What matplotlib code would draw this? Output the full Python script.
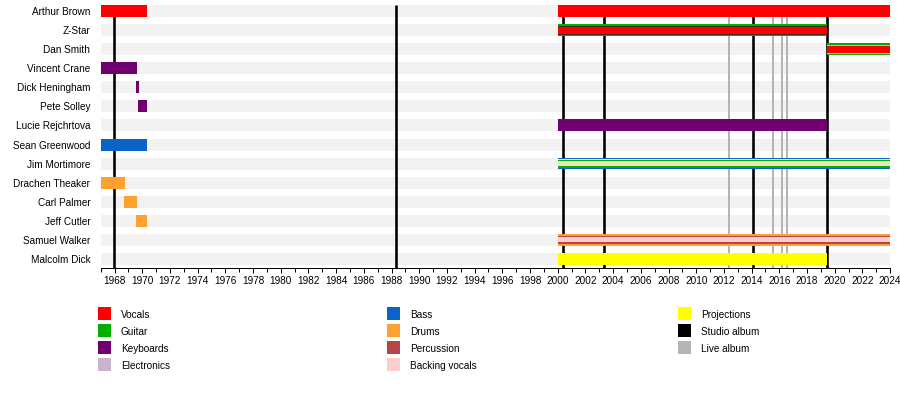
import matplotlib
matplotlib.use("Agg")
import matplotlib.pyplot as plt
import matplotlib.patches as mpatches
from matplotlib.ticker import FixedLocator

plt.rcParams['font.family'] = ['Liberation Sans', 'DejaVu Sans']

# ---------------- data ----------------
members = ["Arthur Brown", "Z-Star", "Dan Smith", "Vincent Crane", "Dick Heningham",
           "Pete Solley", "Lucie Rejchrtova", "Sean Greenwood", "Jim Mortimore",
           "Drachen Theaker", "Carl Palmer", "Jeff Cutler", "Samuel Walker", "Malcolm Dick"]

period_start = 1967.0
period_end = 2024.0

bar_member = ["Arthur Brown", "Arthur Brown", "Z-Star", "Dan Smith", "Vincent Crane",
              "Dick Heningham", "Pete Solley", "Lucie Rejchrtova", "Sean Greenwood",
              "Jim Mortimore", "Drachen Theaker", "Carl Palmer", "Jeff Cutler",
              "Samuel Walker", "Malcolm Dick"]
bar_start = [1967.0, 2000.0, 2000.0, 2019.45, 1967.0,
             1969.55, 1969.72, 2000.0, 1967.0,
             2000.0, 1967.0, 1968.68, 1969.55,
             2000.0, 2000.0]
bar_end = [1970.34, 2024.0, 2019.45, 2024.0, 1969.62,
           1969.77, 1970.34, 2019.45, 1970.34,
           2024.0, 1968.73, 1969.62, 1970.34,
           2024.0, 2019.45]
bar_roles = [["vocals"], ["vocals"], ["guitar", "zline", "vocals"],
             ["guitar", "electronics", "vocals"], ["keyboards"],
             ["keyboards"], ["keyboards"], ["keyboards"], ["bass"],
             ["bass", "jpale", "guitar", "jbeige"], ["drums"], ["drums"], ["drums"],
             ["drums", "percussion", "bvocals"], ["projections"]]

studio_albums = [1967.96, 1988.32, 2000.4, 2003.36, 2014.12, 2019.44]
live_albums = [2012.39, 2015.56, 2016.2, 2016.57]

legend_col1 = ["Vocals", "Guitar", "Keyboards", "Electronics"]
legend_col2 = ["Bass", "Drums", "Percussion", "Backing vocals"]
legend_col3 = ["Projections", "Studio album", "Live album"]

# ---------------- style ----------------
colors = {
    "vocals": "#ff0000", "guitar": "#00b000", "keyboards": "#700070",
    "electronics": "#c8b4cc", "bass": "#0a64c8", "drums": "#ffa030",
    "percussion": "#b44646", "bvocals": "#ffcccc", "projections": "#ffff00",
    "studio": "#000000", "live": "#b4b4b4",
    "zline": "#402818", "jpale": "#dfe6e4", "jbeige": "#eee4b4",
}
legend_colors = {
    "Vocals": colors["vocals"], "Guitar": colors["guitar"], "Keyboards": colors["keyboards"],
    "Electronics": colors["electronics"], "Bass": colors["bass"], "Drums": colors["drums"],
    "Percussion": colors["percussion"], "Backing vocals": colors["bvocals"],
    "Projections": colors["projections"], "Studio album": colors["studio"],
    "Live album": colors["live"],
}
layer_heights_px = [12, 9, 7, 5]

W, H = 900, 395
x0px, x1px = 100.7, 890.1
ytop_px, ybot_px = 2.0, 268.0
row0_px, row_px = 11.0, 19.08
PT = 0.72  # points per pixel at 100 dpi

fig = plt.figure(figsize=(W / 100, H / 100), dpi=100)
ax = fig.add_axes([x0px / W, 1 - ybot_px / H, (x1px - x0px) / W, (ybot_px - ytop_px) / H])
ax.set_xlim(period_start, period_end)
ax.set_ylim((ybot_px - row0_px) / row_px, (ytop_px - row0_px) / row_px)
pxu = 1.0 / row_px

rows = list(range(len(members)))
row_of = {m: i for i, m in enumerate(members)}

# background bands
ax.barh(rows, period_end - period_start, left=period_start, height=12 * pxu,
        color="#f2f2f2", linewidth=0, zorder=0)

# album lines
line_top = (5 - row0_px) / row_px
line_bot = (ybot_px - row0_px) / row_px
ax.vlines(live_albums, line_top, line_bot, color=colors["live"], linewidth=2.0 * PT, zorder=1)
ax.vlines(studio_albums, line_top, line_bot, color=colors["studio"], linewidth=2.6 * PT, zorder=2)

# member bars
for m, s, e, roles in zip(bar_member, bar_start, bar_end, bar_roles):
    if len(roles) == 3 and roles[-1] == "bvocals":
        hs = [11.5, 8.5, 5]
    elif len(roles) == 4:
        hs = [11.5, 9.5, 8, 5.5]
    else:
        hs = layer_heights_px
    for k, r in enumerate(roles):
        ax.barh(row_of[m], e - s, left=s, height=hs[k] * pxu, color=colors[r],
                linewidth=0, zorder=3 + k)

# axes styling
for sp in ["top", "left", "right"]:
    ax.spines[sp].set_visible(False)
ax.spines["bottom"].set_linewidth(1.0 * PT)
ax.spines["bottom"].set_color("black")
ax.spines["bottom"].set_zorder(10)

major = list(range(1968, 2025, 2))
minor = list(range(1967, 2025, 1))
ax.xaxis.set_major_locator(FixedLocator(major))
ax.xaxis.set_minor_locator(FixedLocator([y for y in minor if y not in major]))
ax.set_xticklabels([str(y) for y in major])
ax.tick_params(axis="x", which="major", direction="out", length=4.5 * PT, width=1.0 * PT,
               labelsize=7.2, pad=2.5, colors="black")
ax.tick_params(axis="x", which="minor", direction="out", length=4.0 * PT, width=1.0 * PT)

ax.set_yticks(rows)
ax.set_yticklabels(members)
ax.tick_params(axis="y", length=0, pad=10.5 * PT, labelsize=7.2, labelcolor="black")

# legend (three columns, drawn as figure-level patches + text)
def make_legend(labels, xpx, ypx, step=17.0, size=12.5, textgap=10.0):
    for i, l in enumerate(labels):
        top = ypx + i * step
        fig.patches.append(mpatches.Rectangle(
            (xpx / W, 1 - (top + size) / H), size / W, size / H,
            transform=fig.transFigure, facecolor=legend_colors[l], edgecolor="none"))
        fig.text((xpx + size + textgap) / W, 1 - (top + size / 2 + 1.0) / H, l,
                 fontsize=7.2, va="center", ha="left", color="black")

make_legend(legend_col1, 98.3, 307.3)
make_legend(legend_col2, 387.3, 307.3)
make_legend(legend_col3, 678.3, 307.3)

fig.savefig("out.png", dpi=100)
